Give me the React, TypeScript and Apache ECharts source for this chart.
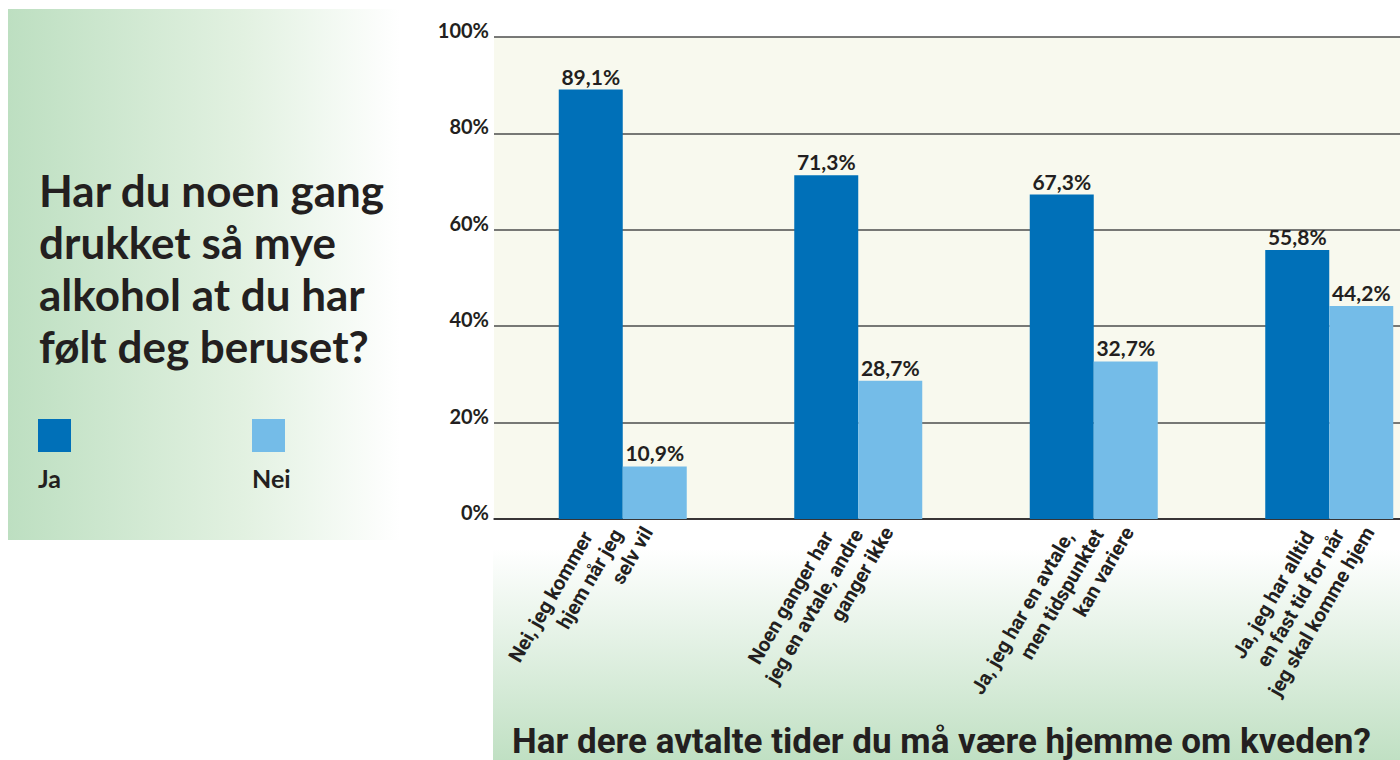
import React, { useEffect, useRef } from "react";
import * as echarts from "echarts";

const categories = [
  "Nei, jeg kommer\nhjem når jeg\nselv vil",
  "Noen ganger har\njeg en avtale, andre\nganger ikke",
  "Ja, jeg har en avtale,\nmen tidspunktet\nkan variere",
  "Ja, jeg har alltid\nen fast tid for når\njeg skal komme hjem",
];
const seriesNames = ["Ja", "Nei"];
const jaValues = [89.1, 71.3, 67.3, 55.8];
const neiValues = [10.9, 28.7, 32.7, 44.2];
const yTickStep = 20;
const yMax = 100;
const questionLines = ["Har du noen gang", "drukket så mye", "alkohol at du har", "følt deg beruset?"];
const xTitle = "Har dere avtalte tider du må være hjemme om kveden?";
const colors = ["#0070b8", "#74bce8"];

const TEXT = "#231f20";

const fmtPct = (v: number) => v.toFixed(1).replace(".", ",") + "%";

export default function App() {
  const ref = useRef<HTMLDivElement>(null);
  useEffect(() => {
    if (!ref.current) return;
    const chart = echarts.init(ref.current, undefined, { renderer: "svg" });
    const valueLabel = {
      show: true,
      position: "top",
      distance: 3,
      formatter: (p: any) => fmtPct(p.value),
      fontFamily: "Lato",
      fontWeight: "bold",
      fontSize: 21,
      color: TEXT,
    };
    const catRichBase = { fontFamily: "Roboto", fontWeight: "bold", fontSize: 20, color: TEXT, align: "right", lineHeight: 25 };
    const option: any = {
      animation: false,
      backgroundColor: "#ffffff",
      grid: [
        { left: 494, top: 37, right: 0, height: 482, show: true, backgroundColor: "#f8f9ee", borderWidth: 0, outerBoundsMode: "none", containLabel: false },
        { left: 505, top: 37, right: -47, height: 482, show: false, outerBoundsMode: "none", containLabel: false },
        { left: 497, top: 37, right: -59, height: 482, show: false, outerBoundsMode: "none", containLabel: false },
      ],
      xAxis: [
        {
          gridIndex: 0,
          type: "value",
          min: 0,
          max: 1,
          axisLine: { show: true, lineStyle: { color: TEXT, width: 1.5 } },
          axisTick: { show: false },
          axisLabel: { show: false },
          splitLine: { show: false },
        },
        {
          gridIndex: 1,
          type: "category",
          data: categories,
          axisLine: { show: false },
          axisTick: { show: false },
          axisLabel: { show: false },
        },
        {
          gridIndex: 2,
          type: "category",
          data: categories,
          axisLine: { show: false },
          axisTick: { show: false },
          axisLabel: {
            interval: 0,
            rotate: 60,
            margin: -8,
            padding: [20, 0, 0, 0],
            formatter: (v: string) =>
              v
                .split("\n")
                .map((l, i, arr) => `{t|${l}}` + (i < arr.length - 1 ? `{s${i}| }` : ""))
                .join("\n"),
            rich: {
              t: catRichBase,
              s0: { ...catRichBase, width: 34 },
              s1: { ...catRichBase, width: 17 },
            },
          },
        },
      ],
      yAxis: [
        {
          gridIndex: 0,
          type: "value",
          min: 0,
          max: yMax,
          interval: yTickStep,
          axisLine: { show: false },
          axisTick: { show: false },
          axisLabel: {
            formatter: "{value}%",
            margin: 5,
            fontFamily: "Lato",
            fontWeight: "bold",
            fontSize: 20,
            color: TEXT,
            verticalAlign: "bottom",
            lineHeight: 14,
          },
          splitLine: { show: true, lineStyle: { color: "#4d4d4d", width: 1.5 } },
        },
        { gridIndex: 1, type: "value", min: 0, max: yMax, show: false },
        { gridIndex: 2, type: "value", min: 0, max: yMax, show: false },
      ],
      series: [
        {
          type: "bar",
          name: seriesNames[0],
          xAxisIndex: 1,
          yAxisIndex: 1,
          data: jaValues,
          barWidth: 64,
          barGap: "0%",
          itemStyle: { color: colors[0] },
          label: valueLabel,
        },
        {
          type: "bar",
          name: seriesNames[1],
          xAxisIndex: 1,
          yAxisIndex: 1,
          data: neiValues,
          barWidth: 64,
          barGap: "0%",
          itemStyle: { color: colors[1] },
          label: valueLabel,
        },
      ],
      graphic: [
        {
          type: "rect",
          z: -10,
          shape: { x: 8, y: 9, width: 392, height: 531 },
          style: {
            fill: new echarts.graphic.LinearGradient(0, 0, 1, 0, [
              { offset: 0, color: "#bddfc1" },
              { offset: 0.6, color: "#e2f1e1" },
              { offset: 1, color: "#ffffff" },
            ]),
          },
        },
        {
          type: "rect",
          z: -10,
          shape: { x: 493, y: 520, width: 907, height: 240 },
          style: {
            fill: new echarts.graphic.LinearGradient(0, 0, 0, 1, [
              { offset: 0, color: "#ffffff" },
              { offset: 0.12, color: "#ffffff" },
              { offset: 1, color: "#c0e0c3" },
            ]),
          },
        },
        {
          type: "text",
          z: 10,
          x: 39,
          y: 164,
          style: {
            text: questionLines.join("\n"),
            fontFamily: "Lato",
            fontWeight: "bold",
            fontSize: 44,
            lineHeight: 52,
            fill: TEXT,
            verticalAlign: "top",
          },
        },
        { type: "rect", z: 10, shape: { x: 38, y: 419, width: 33, height: 33 }, style: { fill: colors[0] } },
        { type: "rect", z: 10, shape: { x: 252, y: 419, width: 33, height: 33 }, style: { fill: colors[1] } },
        {
          type: "text",
          z: 10,
          x: 38,
          y: 478,
          style: { text: seriesNames[0], fontFamily: "Lato", fontWeight: "bold", fontSize: 25, fill: TEXT, verticalAlign: "middle" },
        },
        {
          type: "text",
          z: 10,
          x: 252,
          y: 478,
          style: { text: seriesNames[1], fontFamily: "Lato", fontWeight: "bold", fontSize: 25, fill: TEXT, verticalAlign: "middle" },
        },
        {
          type: "text",
          z: 10,
          x: 512,
          y: 741,
          style: { text: xTitle, fontFamily: "Roboto", fontWeight: "bold", fontSize: 35, fill: TEXT, verticalAlign: "middle" },
        },
      ],
    };
    chart.setOption(option);
    return () => chart.dispose();
  }, []);
  return <div ref={ref} style={{ position: "absolute", left: 0, top: 0, width: 1400, height: 760 }} />;
}
